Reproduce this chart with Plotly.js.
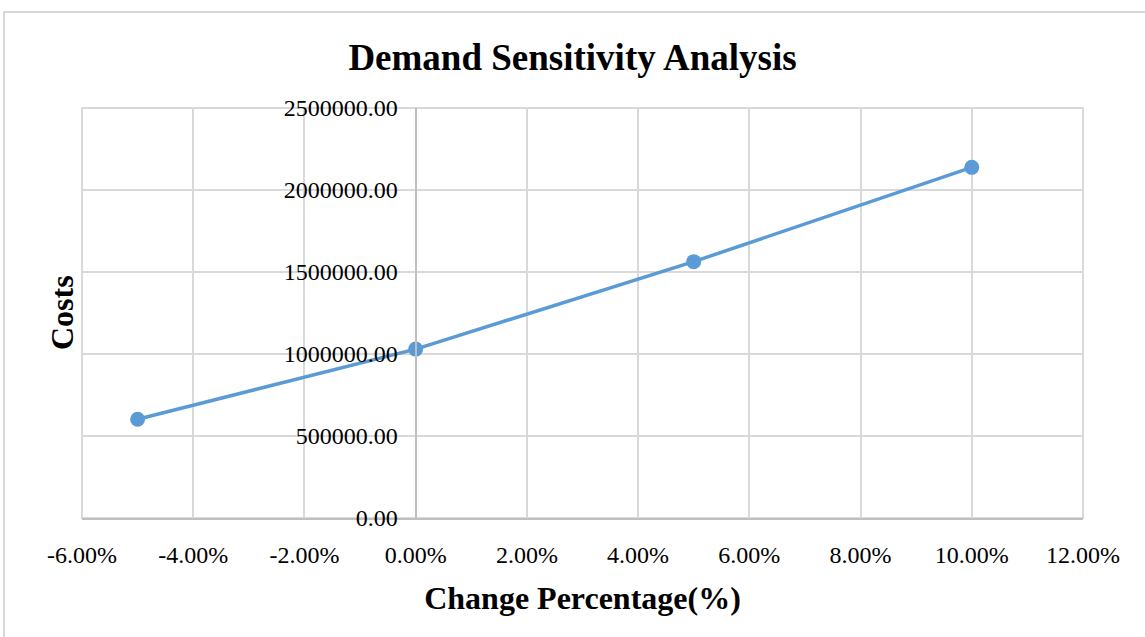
<!DOCTYPE html>
<html>
<head>
<meta charset="utf-8">
<script src="https://cdn.plot.ly/plotly-3.0.1.min.js"></script>
<style>
  html, body { margin: 0; padding: 0; background: #ffffff; overflow: hidden; }
  #chart { width: 1145px; height: 637px; position: absolute; left: 0; top: 0; }
  #frame { position: absolute; left: 3px; top: 11px; width: 1200px; height: 700px;
           border: 2px solid #d9d9d9; pointer-events: none; box-sizing: border-box; }
</style>
</head>
<body>
<div id="chart"></div>
<div id="frame"></div>
<script>
// Data
const changePercentage = [-0.05, 0.00, 0.05, 0.10];
const costs = [602000, 1030000, 1563000, 2138000];
const xTickValues = [-0.06, -0.04, -0.02, 0.00, 0.02, 0.04, 0.06, 0.08, 0.10, 0.12];
const xTickLabels = ['-6.00%', '-4.00%', '-2.00%', '0.00%', '2.00%', '4.00%', '6.00%', '8.00%', '10.00%', '12.00%'];
const yTickValues = [0, 500000, 1000000, 1500000, 2000000, 2500000];

const FONT = '"Liberation Serif", "Times New Roman", Times, serif';

const trace = {
  x: changePercentage,
  y: costs,
  type: 'scatter',
  mode: 'lines+markers',
  line: { color: '#5b9bd5', width: 3.5 },
  marker: { color: '#5b9bd5', size: 15 },
  hoverinfo: 'x+y'
};

const layout = {
  width: 1145,
  height: 637,
  margin: { l: 82, r: 62, t: 108, b: 119 },
  paper_bgcolor: '#ffffff',
  plot_bgcolor: '#ffffff',
  showlegend: false,
  font: { family: FONT, color: '#000000', size: 24 },
  title: {
    text: '<b>Demand Sensitivity Analysis</b>',
    font: { family: FONT, size: 37, color: '#000000' },
    x: 0.5, xanchor: 'center',
    y: 1 - 57 / 637, yanchor: 'middle', yref: 'container'
  },
  xaxis: {
    range: [-0.06, 0.12],
    tickvals: xTickValues,
    ticktext: xTickLabels,
    showgrid: true,
    gridcolor: '#d9d9d9',
    gridwidth: 2,
    zeroline: false,
    showline: true,
    linecolor: '#bfbfbf',
    linewidth: 2,
    ticks: '',
    ticklabelstandoff: 14,
    tickfont: { family: FONT, size: 24, color: '#000000' },
    title: {
      text: '<b>Change Percentage(%)</b>',
      font: { family: FONT, size: 32, color: '#000000' },
      standoff: 20
    }
  },
  yaxis: {
    range: [0, 2500000],
    tickvals: yTickValues,
    tickformat: '.2f',
    showgrid: true,
    gridcolor: '#d9d9d9',
    gridwidth: 2,
    zeroline: false,
    showline: true,
    linecolor: '#bfbfbf',
    linewidth: 2,
    anchor: 'free',
    position: 6 / 18,
    ticks: '',
    ticklabelstandoff: 12,
    tickfont: { family: FONT, size: 24, color: '#000000' }
  },
  shapes: [{
    type: 'rect', xref: 'paper', yref: 'paper',
    x0: 0, x1: 1, y0: 0, y1: 1,
    line: { color: '#d9d9d9', width: 2 },
    fillcolor: 'rgba(0,0,0,0)',
    layer: 'below'
  }],
  annotations: [{
    text: '<b>Costs</b>',
    textangle: -90,
    xref: 'paper', yref: 'paper',
    x: (62 - 82) / 1001, y: 0.5,
    xanchor: 'center', yanchor: 'middle',
    showarrow: false,
    font: { family: FONT, size: 32, color: '#000000' }
  }]
};

Plotly.newPlot('chart', [trace], layout, { displayModeBar: false, responsive: false });
</script>
</body>
</html>
